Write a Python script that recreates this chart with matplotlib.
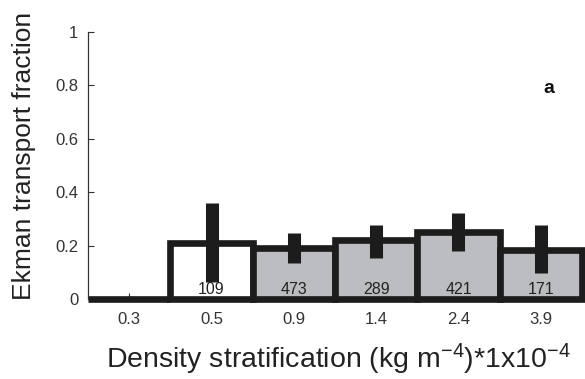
import matplotlib
matplotlib.use("Agg")
import matplotlib.pyplot as plt
import numpy as np

plt.rcParams['font.family'] = ['Liberation Sans', 'DejaVu Sans']
plt.rcParams['mathtext.default'] = 'regular'

# Stratification classes and Ekman transport fractions
categories = ["0.3", "0.5", "0.9", "1.4", "2.4", "3.9"]
fraction = [0.0, 0.21, 0.19, 0.22, 0.25, 0.185]
err_low = [np.nan, 0.065, 0.135, 0.152, 0.181, 0.099]
err_high = [np.nan, 0.36, 0.246, 0.277, 0.321, 0.277]
counts = ["", "109", "473", "289", "421", "171"]
fills = ["white", "white", "#bcbdc1", "#bcbdc1", "#bcbdc1", "#bcbdc1"]

dark = "#1c1c1c"

fig = plt.figure(figsize=(5.85, 3.79), dpi=100)
ax = fig.add_axes([88 / 585, 1 - 299 / 379, (582 - 88) / 585, (299 - 32) / 379])

x = np.arange(1, len(categories) + 1)
bars = ax.bar(x, fraction, width=1.0, color=fills, edgecolor=dark,
              linewidth=4.8, zorder=2)
for b in bars:
    b.set_clip_on(False)
    b.set_joinstyle('miter')

ax.vlines(x, err_low, err_high, colors=dark, linewidth=9.4, zorder=3,
          capstyle='butt')

for xi, c in zip(x, counts):
    if c:
        ax.text(xi, 0.035, c, ha='center', va='center', fontsize=11.5,
                color='#222222', zorder=4)

ax.text(6.1, 0.79, "a", ha='center', va='center', fontsize=14,
        fontweight='bold', color='#111111')

ax.set_xlim(0.5, 6.5)
ax.set_ylim(0, 1)
ax.set_xticks(x)
ax.set_xticklabels(categories, fontsize=12, color='#333333')
ax.set_yticks([0, 0.2, 0.4, 0.6, 0.8, 1])
ax.set_yticklabels(["0", "0.2", "0.4", "0.6", "0.8", "1"], fontsize=12,
                   color='#333333')
ax.tick_params(direction='in', length=4, width=0.8, color='#333333')
ax.tick_params(axis='x', pad=9)
ax.tick_params(axis='y', pad=7)

for side in ['top', 'right', 'bottom']:
    ax.spines[side].set_visible(False)
ax.spines['left'].set_color('#333333')
ax.spines['left'].set_linewidth(0.9)

fig.text(24 / 585, 1 - 156 / 379, "Ekman transport fraction", rotation=90,
         ha='center', va='center', fontsize=19, color='#222222')
fig.text(338 / 585, 1 - 368 / 379,
         r"Density stratification (kg m$^{-4}$)*1x10$^{-4}$",
         ha='center', va='baseline', fontsize=20.5, color='#222222')

fig.savefig("out.png", dpi=100)
